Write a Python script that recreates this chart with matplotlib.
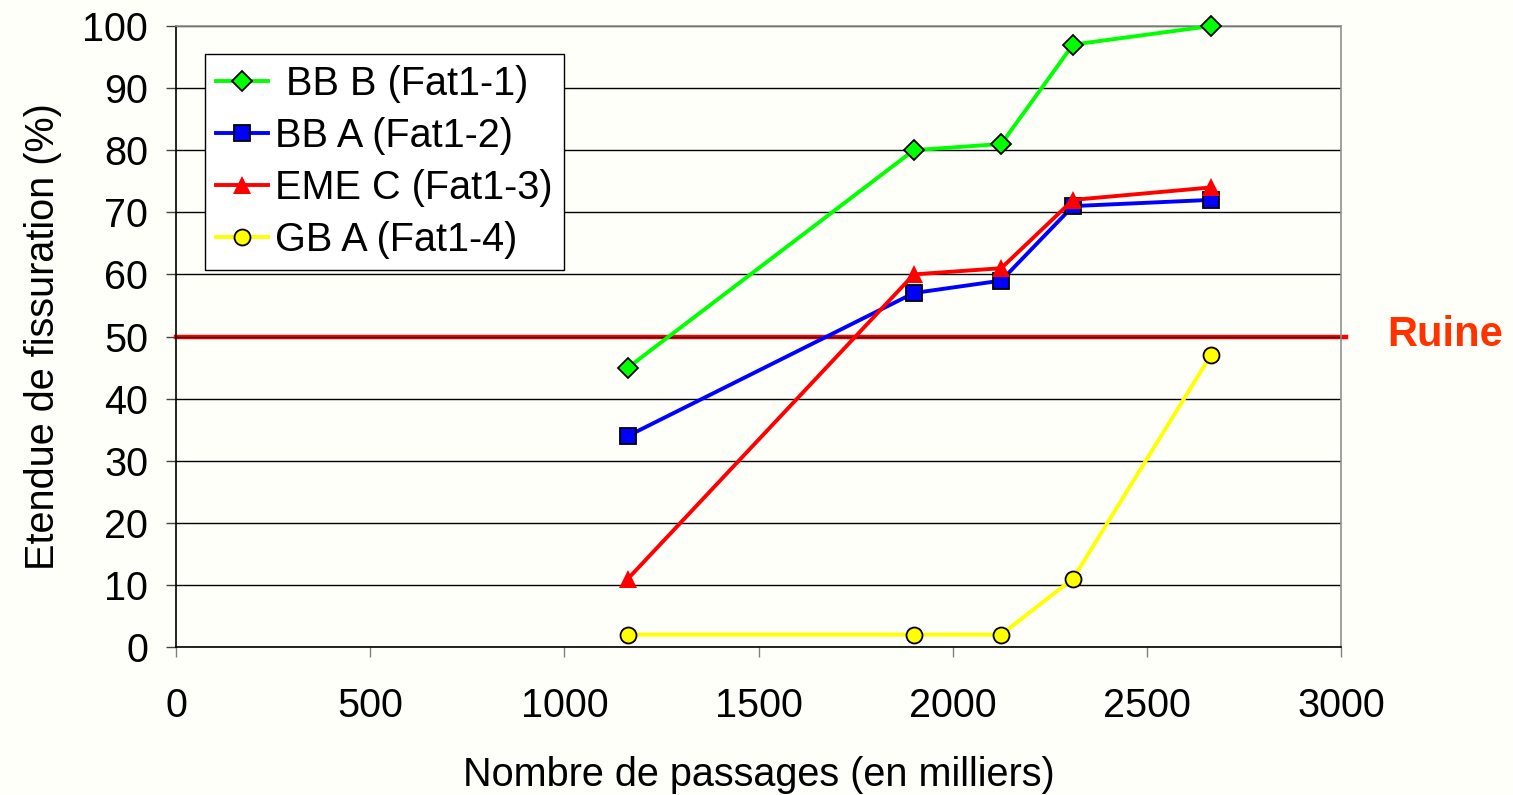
import matplotlib
matplotlib.use("Agg")
import matplotlib.pyplot as plt

x_vals = [1164, 1900, 2125, 2310, 2665]
bbb = [45, 80, 81, 97, 100]
bba = [34, 57, 59, 71, 72]
emec = [11, 60, 61, 72, 74]
gba = [2, 2, 2, 11, 47]
labels = [" BB B (Fat1-1)", "BB A (Fat1-2)", "EME C (Fat1-3)", "GB A (Fat1-4)"]
x_ticks = [0, 500, 1000, 1500, 2000, 2500, 3000]
y_ticks = [0, 10, 20, 30, 40, 50, 60, 70, 80, 90, 100]
ruine_level = 50

plt.rcParams['font.family'] = ['Liberation Sans', 'DejaVu Sans']
FS = 28.5
bg = '#fffffa'
fig = plt.figure(figsize=(15.13, 7.95), dpi=100, facecolor=bg)
ax = fig.add_axes([176/1513, 1-647/795, (1341-176)/1513, (647-26)/795])
ax.set_facecolor(bg)

ax.set_xlim(0, 3000)
ax.set_ylim(0, 100)
ax.set_xticks(x_ticks)
ax.set_yticks(y_ticks)
ax.tick_params(axis='both', labelsize=FS, direction='out', length=7, width=1, color='#808080')
ax.tick_params(axis='x', pad=22)
ax.tick_params(axis='y', pad=13, color='#404040')
for s in ['left', 'bottom']:
    ax.spines[s].set_color('black')
    ax.spines[s].set_linewidth(1.2)
for s in ['top', 'right']:
    ax.spines[s].set_color('#909090')
    ax.spines[s].set_linewidth(1.2)
ax.yaxis.grid(True, color='black', linewidth=1.0, zorder=1)
ax.set_axisbelow(True)

# Ruine line
ax.plot([0, 1.004], [ruine_level, ruine_level], transform=ax.get_yaxis_transform(),
        color='#ff0000', linewidth=3.2, clip_on=False, zorder=2)
ax.plot([0, 1.0], [ruine_level, ruine_level], transform=ax.get_yaxis_transform(),
        color='#400000', linewidth=1.0, clip_on=False, zorder=2.1)
ax.text(1.0895, ruine_level + 0.3, "Ruine", transform=ax.get_yaxis_transform(),
        color='#ff3300', fontsize=30, fontweight='bold', ha='center', va='center')

ax.plot(x_vals, bbb, color='#00ff00', lw=2.8, marker='D', ms=10, mfc='#00ff00', mec='black', mew=1.3, label=labels[0], zorder=5, clip_on=False)
ax.plot(x_vals, bba, color='#0000ff', lw=2.8, marker='s', ms=11.5, mfc='#0000ff', mec='black', mew=1.3, label=labels[1], zorder=4, clip_on=False)
ax.plot(x_vals, emec, color='#ff0000', lw=2.8, marker='^', ms=13, mfc='#ff0000', mec='#ff0000', mew=0, label=labels[2], zorder=4.5, clip_on=False)
ax.plot(x_vals, gba, color='#ffff00', lw=2.8, marker='o', ms=11.5, mfc='#ffff00', mec='black', mew=1.3, label=labels[3], zorder=4, clip_on=False)

leg = ax.legend(loc='upper left', bbox_to_anchor=((205-176)/1165, 1-(54-26)/621),
                fontsize=FS, frameon=True, fancybox=False, edgecolor='black',
                framealpha=1, facecolor='white', borderpad=0.28, labelspacing=0.35,
                handlelength=1.3, handletextpad=0.2, borderaxespad=0)
leg.get_frame().set_linewidth(1.0)
leg.set_zorder(10)

ax.set_xlabel("Nombre de passages (en milliers)", fontsize=FS, labelpad=22)
ax.set_ylabel("Etendue de fissuration (%)", fontsize=FS, labelpad=15)

fig.savefig("out.png", dpi=100, facecolor=bg)
